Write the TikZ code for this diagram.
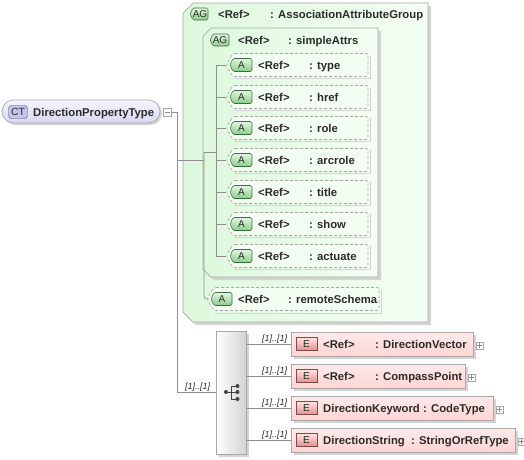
\documentclass[tikz,border=0pt]{standalone}
\usepackage{fontspec}
\setmainfont{Liberation Sans}
\definecolor{linec}{HTML}{8E8E8E}
\definecolor{txtc}{HTML}{2B2B2B}
\definecolor{bordc}{HTML}{A8A8A8}
\definecolor{shadc}{HTML}{D4D4D4}
\definecolor{grpL}{HTML}{DDF8DD}
\definecolor{grpR}{HTML}{F4FFF4}
\definecolor{grnT}{HTML}{E2F6E2}
\definecolor{grnB}{HTML}{8ACC8A}
\definecolor{grnD}{HTML}{3F6F3F}
\definecolor{redT}{HTML}{FFE4E4}
\definecolor{redB}{HTML}{E88C8C}
\definecolor{redD}{HTML}{804848}
\definecolor{elT}{HTML}{FFEAEA}
\definecolor{elB}{HTML}{FFD4D4}
\definecolor{ctT}{HTML}{F6F6FF}
\definecolor{ctB}{HTML}{D6D6F2}
\definecolor{ctbadge}{HTML}{C4C4EE}
\begin{document}
\begin{tikzpicture}[x=1pt,y=-1pt,
  conn/.style={draw=linec, line width=0.7pt},
  lbl/.style={font=\fontsize{11.3}{13}\selectfont\bfseries, text=txtc, inner sep=0pt, anchor=base west},
  mult/.style={font=\fontsize{9}{10}\selectfont\itshape, text=txtc, inner sep=0pt, anchor=base west},
  badgetxt/.style={font=\fontsize{10}{11}\selectfont, text=txtc, inner sep=0pt},
  pmbox/.style={draw=bordc, fill=white, minimum width=8pt, minimum height=8pt, inner sep=0pt, line width=0.5pt},
  attrbox/.style={draw=bordc, dash pattern=on 3pt off 2pt, line width=0.7pt, fill=grpR, rounded corners=2pt},
  grpbox/.style={draw=bordc, line width=0.7pt, left color=grpL, right color=grpR},
  ebox/.style={draw=bordc, line width=0.7pt, top color=elT, bottom color=elB},
  gbadge/.style={draw=grnD, line width=0.6pt, top color=grnT, bottom color=grnB, rounded corners=1.5pt},
  rbadge/.style={draw=redD, line width=0.6pt, top color=redT, bottom color=redB},
]
\useasboundingbox (0,0) rectangle (524,459);

% ---------- complex type ----------
\fill[shadc, rounded corners=11.5pt] (4,102) rectangle (162,125);
\node[draw=bordc, line width=0.7pt, top color=ctT, bottom color=ctB, rounded corners=11.5pt,
      minimum width=158pt, minimum height=23pt, inner sep=0pt] (ct) at (81,111.5) {};
\node[draw=black!65, fill=ctbadge, rounded corners=3pt, minimum width=19pt, minimum height=13pt,
      inner sep=0pt, font=\fontsize{10.5}{11}\selectfont, text=txtc] (ctb) at (18,112) {CT};
\node[lbl] (ctn) at (33,116) {DirectionPropertyType};
\node[pmbox] (ctm) at (167.5,112) {};
\draw[linec, line width=0.6pt] ([xshift=1.8pt]ctm.west) -- ([xshift=-1.8pt]ctm.east);

% ---------- outer attribute group ----------
\fill[shadc] (196,6) -- (431,6) -- (431,325) -- (196,325) -- (186,315) -- (186,16) -- cycle;
\path[grpbox] (193,3) -- (428,3) -- (428,322) -- (193,322) -- (183,312) -- (183,13) -- cycle;
\node[inner sep=0pt, minimum width=245pt, minimum height=319pt] (ag) at (305.5,162.5) {};
\path[gbadge] (193,8) -- (208,8) -- (208,20) -- (193,20) -- (190,14) -- cycle;
\node[badgetxt] (agb) at (200,14) {AG};
\node[lbl] (agr) at (218,18) {<Ref>};
\node[lbl] (agn) at (270,18) {: AssociationAttributeGroup};

% ---------- inner attribute group ----------
\fill[shadc] (214,31) -- (381,31) -- (381,280) -- (214,280) -- (206,272) -- (206,39) -- cycle;
\path[grpbox] (211,28) -- (378,28) -- (378,277) -- (211,277) -- (203,269) -- (203,36) -- cycle;
\node[inner sep=0pt, minimum width=175pt, minimum height=249pt] (sa) at (290.5,152.5) {};
\path[gbadge] (213,34) -- (229,34) -- (229,46) -- (213,46) -- (210,40) -- cycle;
\node[badgetxt] (sab) at (220,40) {AG};
\node[lbl] (sar) at (238,44) {<Ref>};
\node[lbl] (san) at (288,44) {: simpleAttrs};

% ---------- attributes ----------
\coordinate (itop) at (216,65);
\coordinate (ibot) at (216,256);
\draw[conn] (itop) -- (ibot);
\foreach \y/\n [count=\i] in {65/type, 97/href, 128/role, 160/arcrole, 192/title, 224/show, 256/actuate} {
  \draw[shadc, line width=1pt] (370,\y-10) -- (370,\y+13.5) -- (235,\y+13.5);
  \path[attrbox] (233,\y-11.5) -- (368,\y-11.5) -- (368,\y+11.5) -- (233,\y+11.5) -- (226,\y) -- cycle;
  \node[inner sep=0pt, minimum width=142pt, minimum height=23pt] (at\i) at (297,\y) {};
  \path[gbadge] (233,\y-6.5) -- (252,\y-6.5) -- (252,\y+6.5) -- (233,\y+6.5) -- (230,\y) -- cycle;
  \node[badgetxt] (atb\i) at (241.5,\y) {A};
  \node[lbl] (atr\i) at (258,\y+4) {<Ref>};
  \node[lbl] (atn\i) at (309,\y+4) {: \n};
  \draw[conn] (216,\y) -- (at\i.west);
}

% ---------- remoteSchema ----------
\draw[shadc, line width=1pt] (381,289) -- (381,313) -- (215,313);
\path[attrbox] (214,287.5) -- (379,287.5) -- (379,310.5) -- (214,310.5) -- (207,299) -- cycle;
\node[inner sep=0pt, minimum width=172pt, minimum height=23pt] (rs) at (293,299) {};
\path[gbadge] (214,292.5) -- (232,292.5) -- (232,305.5) -- (214,305.5) -- (211,299) -- cycle;
\node[badgetxt] (rsb) at (222,299) {A};
\node[lbl] (rsr) at (238,303) {<Ref>};
\node[lbl] (rsn) at (288,303) {: remoteSchema};

% ---------- group wiring ----------
\coordinate (gtop) at (204,152);
\draw[conn, rounded corners=3pt] (gtop) -- (204,299) -- (rs.west);
\draw[conn] (gtop) -- (itop |- gtop);
\draw[conn] (ctm.east) -- ++(6,0) |- (204,160);

% ---------- sequence ----------
\fill[shadc] (219,334) rectangle (249,457);
\node[draw=bordc, line width=0.7pt, left color=white, right color=black!17,
      minimum width=30pt, minimum height=123pt, inner sep=0pt] (seq) at (231,392.5) {};
\draw[black!75, line width=0.9pt] (226,392) -- (231,392) (231,386) -- (231,399)
      (231,386) -- (237,386) (231,392) -- (237,392) (231,399) -- (237,399);
\foreach \p in {(226,392),(237.5,386),(237.5,392),(237.5,399)} \fill[black!75] \p circle (2pt);
\draw[conn] (ctm.east) -- ++(6,0) |- (seq.west);
\node[mult] (m0) at (185,389) {[1]..[1]};

% ---------- elements ----------
\foreach \y/\r/\a/\b/\bx [count=\i] in {
   344/473/{<Ref>}/{: DirectionVector}/375,
   376/465/{<Ref>}/{: CompassPoint}/375,
   408/493/{DirectionKeyword}/{: CodeType}/423,
   440/515/{DirectionString}/{: StringOrRefType}/411} {
  \fill[shadc] (294,\y-9) rectangle (\r+3,\y+15);
  \path[ebox] (291,\y-12) rectangle (\r,\y+12);
  \node[inner sep=0pt, minimum width=\r pt-291pt, minimum height=24pt] (el\i) at ({(291+\r)/2},\y) {};
  \path[rbadge] (296,\y-6.5) rectangle (317,\y+6.5);
  \node[badgetxt] (elb\i) at (306.5,\y) {E};
  \node[lbl] (ela\i) at (323,\y+4) {\a};
  \node[lbl] (eln\i) at (\bx,\y+4) {\b};
  \node[pmbox, minimum width=7pt, minimum height=7pt] (elp\i) at (\r+6.5,\y+1.5) {};
  \draw[linec, line width=0.5pt] ([xshift=1.5pt]elp\i.west) -- ([xshift=-1.5pt]elp\i.east)
        ([yshift=-1.5pt]elp\i.north) -- ([yshift=1.5pt]elp\i.south);
  \draw[conn] (seq.east |- el\i.west) -- (el\i.west);
  \node[mult] (ml\i) at (262,\y-3) {[1]..[1]};
}
\end{tikzpicture}
\end{document}
